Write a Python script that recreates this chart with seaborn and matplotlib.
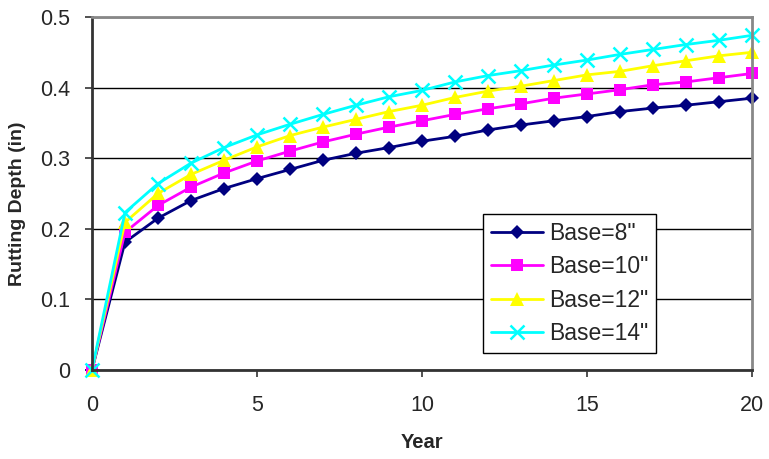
import numpy as np
import pandas as pd
import matplotlib
matplotlib.use("Agg")
import matplotlib.pyplot as plt
import seaborn as sns

# --- data ---
years = list(range(0, 21))
base_8 = [0, 0.181, 0.215, 0.240, 0.257, 0.271, 0.284, 0.297, 0.307, 0.315, 0.324,
          0.331, 0.340, 0.347, 0.353, 0.359, 0.366, 0.371, 0.375, 0.380, 0.385]
base_10 = [0, 0.195, 0.233, 0.259, 0.279, 0.296, 0.310, 0.323, 0.334, 0.344, 0.353,
           0.362, 0.370, 0.377, 0.385, 0.391, 0.397, 0.404, 0.408, 0.414, 0.420]
base_12 = [0, 0.209, 0.250, 0.277, 0.297, 0.316, 0.332, 0.344, 0.355, 0.366, 0.375,
           0.386, 0.395, 0.402, 0.410, 0.418, 0.423, 0.431, 0.438, 0.445, 0.450]
base_14 = [0, 0.223, 0.264, 0.293, 0.315, 0.333, 0.348, 0.362, 0.375, 0.387, 0.396,
           0.408, 0.417, 0.424, 0.432, 0.439, 0.447, 0.454, 0.461, 0.467, 0.474]
series_names = ['Base=8"', 'Base=10"', 'Base=12"', 'Base=14"']
colors = ["#000080", "#FF00FF", "#FFFF00", "#00FFFF"]
markers = ["D", "s", "^", "x"]
marker_sizes = [7.5, 8.5, 10, 10]

df = pd.DataFrame({
    "Year": years * 4,
    "Rutting": base_8 + base_10 + base_12 + base_14,
    "Series": [n for n in series_names for _ in years],
})

sns.set_theme(style="white")
plt.rcParams['font.family'] = ['Liberation Sans', 'DejaVu Sans']

fig = plt.figure(figsize=(7.69, 4.59), dpi=100)
ax = fig.add_axes([0.1196, 0.194, 0.8584, 0.769])

for name, c, m, ms in zip(series_names, colors, markers, marker_sizes):
    sub = df[df["Series"] == name]
    sns.lineplot(data=sub, x="Year", y="Rutting", ax=ax, color=c, marker=m,
                 markersize=ms, markeredgecolor=c, markeredgewidth=1.8 if m == "x" else 0,
                 linewidth=2, label=name)

ax.set_xlim(0, 20)
ax.set_ylim(0, 0.5)
ax.set_xticks([0, 5, 10, 15, 20])
ax.set_yticks([0, 0.1, 0.2, 0.3, 0.4, 0.5])
ax.set_yticklabels(["0", "0.1", "0.2", "0.3", "0.4", "0.5"])
ax.yaxis.grid(True, color="black", linewidth=1)
ax.set_axisbelow(True)
for m in ax.lines:
    m.set_clip_on(False)

ax.tick_params(axis="both", labelsize=15.5, direction="out", length=5, width=1.2,
               color="#333333", left=True, bottom=True)
ax.tick_params(axis="y", pad=11)
ax.tick_params(axis="x", pad=13)
for side in ["left", "bottom"]:
    ax.spines[side].set_color("#333333")
    ax.spines[side].set_linewidth(2)
for side in ["top", "right"]:
    ax.spines[side].set_color("#888888")
    ax.spines[side].set_linewidth(2)

ax.set_xlabel("Year", fontsize=14.5, fontweight="bold", labelpad=12)
ax.set_ylabel("Rutting Depth (in)", fontsize=14, fontweight="bold")
ax.yaxis.set_label_coords(-0.1, 0.47)

leg = ax.legend(loc="lower left", bbox_to_anchor=(0.592, 0.048, 0.263, 0.403),
                mode="expand", fontsize=16.5, frameon=True, fancybox=False,
                edgecolor="black", framealpha=1, handlelength=2.3,
                handletextpad=0.25, labelspacing=0.45, borderpad=0.35, borderaxespad=0)
leg.get_frame().set_linewidth(1)

fig.savefig("out.png", dpi=100)
